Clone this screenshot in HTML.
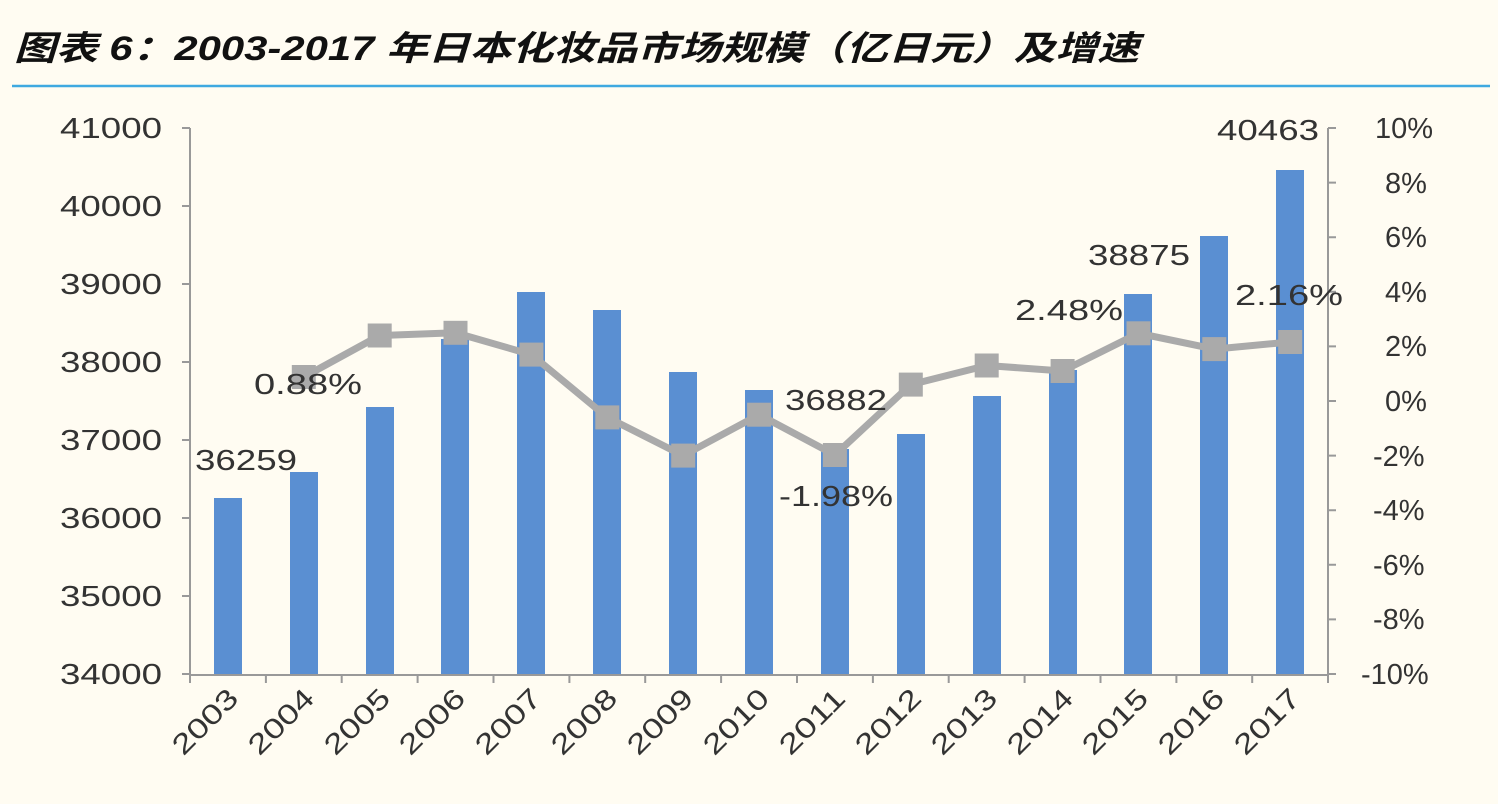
<!DOCTYPE html>
<html><head><meta charset="utf-8"><style>
body{margin:0;background:#fffcf2;}
svg{display:block;font-family:"Liberation Sans","Noto Sans CJK SC",sans-serif;}
</style></head><body>
<svg width="1498" height="804" viewBox="0 0 1498 804">
<rect width="1498" height="804" fill="#fffcf2"/>
<text x="14" y="60" font-size="34" font-weight="bold" font-style="italic" fill="#111" textLength="1125" lengthAdjust="spacingAndGlyphs">图表 6：2003-2017 年日本化妆品市场规模（亿日元）及增速</text>
<line x1="12" y1="86" x2="1490" y2="86" stroke="#3fa9e0" stroke-width="2.5"/>
<g fill="#5a8fd2">
<rect x="214" y="498" width="28" height="177"/>
<rect x="290" y="472" width="28" height="203"/>
<rect x="366" y="407" width="28" height="268"/>
<rect x="441" y="339" width="28" height="336"/>
<rect x="517" y="292" width="28" height="383"/>
<rect x="593" y="310" width="28" height="365"/>
<rect x="669" y="372" width="28" height="303"/>
<rect x="745" y="390" width="28" height="285"/>
<rect x="821" y="449" width="28" height="226"/>
<rect x="897" y="434" width="28" height="241"/>
<rect x="973" y="396" width="28" height="279"/>
<rect x="1049" y="370" width="28" height="305"/>
<rect x="1124" y="294" width="28" height="381"/>
<rect x="1200" y="236" width="28" height="439"/>
<rect x="1276" y="170" width="28" height="505"/>
</g>
<g stroke="#999" stroke-width="2">
<line x1="190" y1="128" x2="190" y2="675"/>
<line x1="1328" y1="128" x2="1328" y2="675"/>
<line x1="190" y1="675" x2="1328" y2="675"/>
<path d="M182 128H190M182 206H190M182 284H190M182 362H190M182 440H190M182 518H190M182 596H190M182 674H190"/>
<path d="M1328 128H1336M1328 182.6H1336M1328 237.2H1336M1328 291.8H1336M1328 346.4H1336M1328 401H1336M1328 455.6H1336M1328 510.2H1336M1328 564.8H1336M1328 619.4H1336M1328 674H1336"/>
<path d="M190 675V683M265.9 675V683M341.7 675V683M417.6 675V683M493.5 675V683M569.4 675V683M645.2 675V683M721.1 675V683M797 675V683M872.9 675V683M948.7 675V683M1024.6 675V683M1100.5 675V683M1176.4 675V683M1252.2 675V683M1328 675V683"/>
</g>
<g font-size="29" fill="#333" text-anchor="end">
<text x="162" y="138" textLength="102" lengthAdjust="spacingAndGlyphs">41000</text>
<text x="162" y="216" textLength="102" lengthAdjust="spacingAndGlyphs">40000</text>
<text x="162" y="294" textLength="102" lengthAdjust="spacingAndGlyphs">39000</text>
<text x="162" y="372" textLength="102" lengthAdjust="spacingAndGlyphs">38000</text>
<text x="162" y="450" textLength="102" lengthAdjust="spacingAndGlyphs">37000</text>
<text x="162" y="528" textLength="102" lengthAdjust="spacingAndGlyphs">36000</text>
<text x="162" y="606" textLength="102" lengthAdjust="spacingAndGlyphs">35000</text>
<text x="162" y="684" textLength="102" lengthAdjust="spacingAndGlyphs">34000</text>
</g>
<g font-size="29" fill="#333">
<text x="1375" y="138">10%</text>
<text x="1385" y="193">8%</text>
<text x="1385" y="247">6%</text>
<text x="1385" y="302">4%</text>
<text x="1385" y="356">2%</text>
<text x="1385" y="411">0%</text>
<text x="1373" y="466">-2%</text>
<text x="1373" y="520">-4%</text>
<text x="1373" y="575">-6%</text>
<text x="1373" y="629">-8%</text>
<text x="1361" y="684">-10%</text>
</g>
<polyline points="303.8,377 379.7,335.5 455.5,332.8 531.4,354.6 607.3,417.4 683.2,455.6 759.1,414.7 834.9,455 910.8,384.6 986.7,365.5 1062.6,371 1138.5,333.3 1214.3,349.1 1290.2,342" fill="none" stroke="#aaa" stroke-width="7" stroke-linejoin="round"/>
<g fill="#aaa">
<rect x="291.8" y="365" width="24" height="24"/>
<rect x="367.7" y="323.5" width="24" height="24"/>
<rect x="443.5" y="320.8" width="24" height="24"/>
<rect x="519.4" y="342.6" width="24" height="24"/>
<rect x="595.3" y="405.4" width="24" height="24"/>
<rect x="671.2" y="443.6" width="24" height="24"/>
<rect x="747.1" y="402.7" width="24" height="24"/>
<rect x="822.9" y="443" width="24" height="24"/>
<rect x="898.8" y="372.6" width="24" height="24"/>
<rect x="974.7" y="353.5" width="24" height="24"/>
<rect x="1050.6" y="359" width="24" height="24"/>
<rect x="1126.5" y="321.3" width="24" height="24"/>
<rect x="1202.3" y="337.1" width="24" height="24"/>
<rect x="1278.2" y="330" width="24" height="24"/>
</g>
<g font-size="28" fill="#333" text-anchor="end">
<text x="240" y="700" transform="rotate(-45 240 700)" textLength="80" lengthAdjust="spacingAndGlyphs">2003</text>
<text x="316" y="700" transform="rotate(-45 316 700)" textLength="80" lengthAdjust="spacingAndGlyphs">2004</text>
<text x="392" y="700" transform="rotate(-45 392 700)" textLength="80" lengthAdjust="spacingAndGlyphs">2005</text>
<text x="467" y="700" transform="rotate(-45 467 700)" textLength="80" lengthAdjust="spacingAndGlyphs">2006</text>
<text x="543" y="700" transform="rotate(-45 543 700)" textLength="80" lengthAdjust="spacingAndGlyphs">2007</text>
<text x="619" y="700" transform="rotate(-45 619 700)" textLength="80" lengthAdjust="spacingAndGlyphs">2008</text>
<text x="695" y="700" transform="rotate(-45 695 700)" textLength="80" lengthAdjust="spacingAndGlyphs">2009</text>
<text x="771" y="700" transform="rotate(-45 771 700)" textLength="80" lengthAdjust="spacingAndGlyphs">2010</text>
<text x="847" y="700" transform="rotate(-45 847 700)" textLength="80" lengthAdjust="spacingAndGlyphs">2011</text>
<text x="923" y="700" transform="rotate(-45 923 700)" textLength="80" lengthAdjust="spacingAndGlyphs">2012</text>
<text x="999" y="700" transform="rotate(-45 999 700)" textLength="80" lengthAdjust="spacingAndGlyphs">2013</text>
<text x="1075" y="700" transform="rotate(-45 1075 700)" textLength="80" lengthAdjust="spacingAndGlyphs">2014</text>
<text x="1150" y="700" transform="rotate(-45 1150 700)" textLength="80" lengthAdjust="spacingAndGlyphs">2015</text>
<text x="1226" y="700" transform="rotate(-45 1226 700)" textLength="80" lengthAdjust="spacingAndGlyphs">2016</text>
<text x="1302" y="700" transform="rotate(-45 1302 700)" textLength="80" lengthAdjust="spacingAndGlyphs">2017</text>
</g>
<g font-size="29" fill="#333" text-anchor="middle">
<text x="246" y="470" textLength="102" lengthAdjust="spacingAndGlyphs">36259</text>
<text x="836" y="410" textLength="102" lengthAdjust="spacingAndGlyphs">36882</text>
<text x="1139" y="265" textLength="102" lengthAdjust="spacingAndGlyphs">38875</text>
<text x="1268" y="140" textLength="102" lengthAdjust="spacingAndGlyphs">40463</text>
<text x="308" y="394" textLength="108" lengthAdjust="spacingAndGlyphs">0.88%</text>
<text x="836" y="506" textLength="114" lengthAdjust="spacingAndGlyphs">-1.98%</text>
<text x="1069" y="320" textLength="108" lengthAdjust="spacingAndGlyphs">2.48%</text>
<text x="1289" y="305" textLength="108" lengthAdjust="spacingAndGlyphs">2.16%</text>
</g>
</svg>
</body></html>
